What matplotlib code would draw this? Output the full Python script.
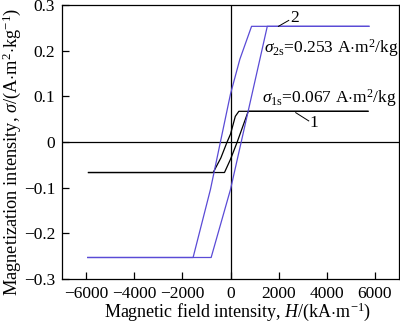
import numpy as np
import matplotlib
matplotlib.use("Agg")
import matplotlib.pyplot as plt

plt.rcParams['font.family'] = ['Liberation Serif', 'DejaVu Serif']
plt.rcParams['mathtext.fontset'] = 'custom'
plt.rcParams['mathtext.rm'] = 'Liberation Serif'
plt.rcParams['mathtext.it'] = 'Liberation Serif:italic'

# curve 2 (blue), descending and ascending branches
h2_desc = [5750, 875, 389, 0, -833, -1554, -5930]
m2_desc = [0.253, 0.253, 0.181, 0.105, -0.104, -0.253, -0.253]
h2_asc = [-5930, -804, 0, 1221, 1528, 5750]
m2_asc = [-0.253, -0.253, -0.104, 0.181, 0.253, 0.253]

# curve 1 (black)
h1_desc = [5710, 347, 200, 0, -140, -400, -720, -5900]
m1_desc = [0.067, 0.067, 0.056, 0.017, 0.0, -0.035, -0.067, -0.067]
h1_asc = [-5900, -250, 0, 280, 736, 5710]
m1_asc = [-0.067, -0.067, -0.038, 0.0, 0.067, 0.067]

xticks = [-6000, -4000, -2000, 0, 2000, 4000, 6000]
yticks = [-0.3, -0.2, -0.1, 0, 0.1, 0.2, 0.3]

blue = '#5a4bd6'

fig = plt.figure(figsize=(4, 3.24), dpi=100)
ax = fig.add_axes([0.155, 0.139, 0.8425, 0.846])

ax.axhline(0, color='black', lw=0.9)
ax.axvline(0, color='black', lw=0.9)

ax.plot(h1_desc, m1_desc, color='black', lw=0.9)
ax.plot(h1_asc, m1_asc, color='black', lw=0.9)
ax.plot(h2_desc, m2_desc, color=blue, lw=0.9)
ax.plot(h2_asc, m2_asc, color=blue, lw=0.9)

ax.set_xlim(-7000, 7000)
ax.set_ylim(-0.3, 0.3)
ax.set_xticks(xticks)
ax.set_yticks(yticks)
ax.set_xticklabels(['\u22126000', '\u22124000', '\u22122000', '0', '2000', '4000', '6000'])
ax.set_yticklabels(['\u22120.3', '\u22120.2', '\u22120.1', '0', '0.1', '0.2', '0.3'])
ax.tick_params(direction='in', length=5, width=0.9, labelsize=12.5)
ax.tick_params(axis='x', pad=5)
ax.tick_params(axis='y', pad=5)
for s in ax.spines.values():
    s.set_linewidth(0.9)

ax.set_xlabel(r'Magnetic field intensity, $H$/(kA$\cdot$m$^{-1}$)', fontsize=13, labelpad=0)
ax.set_ylabel(r'Magnetization intensity, $\sigma$/(A$\cdot$m$^{2}$$\cdot$kg$^{-1}$)', fontsize=13.2)
ax.yaxis.set_label_coords(-0.117, 0.465)
ax.xaxis.set_label_coords(0.52, -0.08)

# labels
ax.plot([1990, 2420], [0.253, 0.266], color='black', lw=0.7)
ax.text(2480, 0.271, '2', fontsize=12.5, va='center', ha='left')
ax.plot([2710, 3250], [0.064, 0.046], color='black', lw=0.7)
ax.text(3300, 0.041, '1', fontsize=12.5, va='center', ha='left')

ax.text(1400, 0.205, r'$\sigma_{\mathrm{2s}}$=0.253 A$\cdot$m$^{2}$/kg', fontsize=12.5, va='center', ha='left')
ax.text(1290, 0.097, r'$\sigma_{\mathrm{1s}}$=0.067 A$\cdot$m$^{2}$/kg', fontsize=12.5, va='center', ha='left')

fig.savefig('out.png', dpi=100)
